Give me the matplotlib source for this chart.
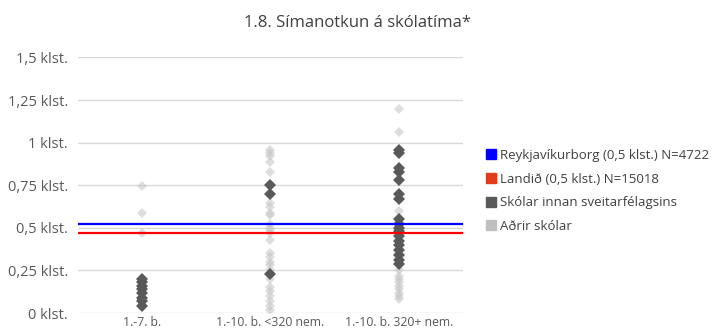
import matplotlib
matplotlib.use('Agg')
import matplotlib.pyplot as plt
from matplotlib.lines import Line2D

plt.rcParams['font.family'] = ['Open Sans', 'DejaVu Sans']

title = '1.8. Símanotkun á skólatíma*'
categories = ['1.-7. b.', '1.-10. b. <320 nem.', '1.-10. b. 320+ nem.']
y_ticks = [0, 0.25, 0.5, 0.75, 1, 1.25, 1.5]
y_tick_labels = ['0 klst.', '0,25 klst.', '0,5 klst.', '0,75 klst.', '1 klst.', '1,25 klst.', '1,5 klst.']

# reference lines
reykjavik_value = 0.52
landid_value = 0.472

# schools in the municipality (dark) per category
own_1 = [0.20, 0.18, 0.16, 0.14, 0.12, 0.09, 0.07, 0.04]
own_2 = [0.75, 0.70, 0.227]
own_3 = [0.955, 0.94, 0.85, 0.83, 0.78, 0.70, 0.67, 0.55, 0.52, 0.50, 0.48, 0.45,
         0.42, 0.40, 0.37, 0.34, 0.31, 0.29]

# other schools (light) per category
other_1 = [0.748, 0.589, 0.468]
other_2 = [0.957, 0.94, 0.92, 0.888, 0.83, 0.646, 0.62, 0.59, 0.575, 0.52, 0.50,
           0.487, 0.47, 0.43, 0.352, 0.33, 0.30, 0.28, 0.25, 0.20, 0.155, 0.13,
           0.10, 0.07, 0.04, 0.018]
other_3 = [1.196, 1.065, 0.60, 0.25, 0.22, 0.20, 0.18, 0.16, 0.14, 0.12, 0.10, 0.085]

own = [own_1, own_2, own_3]
other = [other_1, other_2, other_3]

fig = plt.figure(figsize=(7.26, 3.28), dpi=100)
ax = fig.add_axes([0.107, 0.0457, 0.531, 0.779])

for i, vals in enumerate(other):
    ax.plot([i] * len(vals), vals, linestyle='none', marker='D', markersize=4.8,
            color='#c8c8c8', alpha=0.6, markeredgewidth=0, zorder=2)
for i, vals in enumerate(own):
    ax.plot([i] * len(vals), vals, linestyle='none', marker='D', markersize=6.2,
            color='#595959', markeredgewidth=0, zorder=3)

ax.axhline(reykjavik_value, color='#0000ff', linewidth=1.6, zorder=4)
ax.axhline(landid_value, color='#ff0000', linewidth=1.6, zorder=4)

ax.set_xlim(-0.5, 2.5)
ax.set_ylim(0, 1.5)
ax.set_yticks(y_ticks)
ax.set_yticklabels(y_tick_labels)
ax.set_xticks(range(len(categories)))
ax.set_xticklabels(categories)
ax.tick_params(axis='y', length=0, pad=7, labelsize=10.5, colors='#595959')
ax.tick_params(axis='x', length=0, pad=2, labelsize=8.8, colors='#595959')
ax.grid(axis='y', color='#d9d9d9', linewidth=1)
ax.set_axisbelow(True)
for s in ax.spines.values():
    s.set_visible(False)

fig.text(0.493, 0.93, title, ha='center', va='center', fontsize=12, color='#404040')

handles = [
    Line2D([], [], linestyle='none', marker='s', markersize=7, color='#0000ff'),
    Line2D([], [], linestyle='none', marker='s', markersize=7, color='#e03c1c'),
    Line2D([], [], linestyle='none', marker='s', markersize=7, color='#595959'),
    Line2D([], [], linestyle='none', marker='s', markersize=7, color='#bfbfbf'),
]
labels = ['Reykjavíkurborg (0,5 klst.) N=4722', 'Landið (0,5 klst.) N=15018',
          'Skólar innan sveitarfélagsins', 'Aðrir skólar']
leg = fig.legend(handles, labels, loc='center left', bbox_to_anchor=(0.662, 0.418),
                 frameon=False, fontsize=9.5, handlelength=0.7, handletextpad=0.35,
                 labelspacing=0.8, borderaxespad=0)
for t in leg.get_texts():
    t.set_color('#404040')

fig.savefig('out.png', dpi=100)
